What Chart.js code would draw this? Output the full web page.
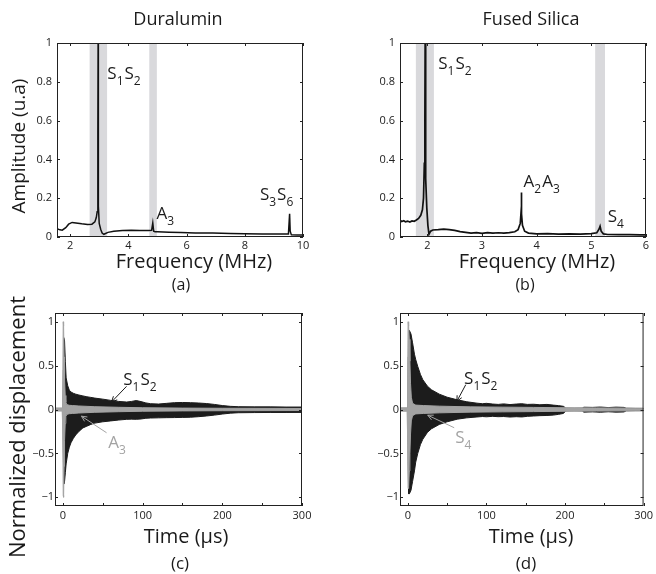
<!DOCTYPE html>
<html>
<head>
<meta charset="utf-8">
<script src="https://cdn.jsdelivr.net/npm/chart.js"></script>
<style>
body { margin: 0; background: #fff; }
#fig { position: relative; width: 656px; height: 574px; overflow: hidden; font-family: "Open Sans", sans-serif; color: #1a1a1a; }
#fig canvas { position: absolute; }
.lbl { position: absolute; transform: translate(-50%, -50%); white-space: nowrap; line-height: 1; }
.rot { transform: translate(-50%, -50%) rotate(-90deg); }
</style>
</head>
<body>
<div id="fig">
  <canvas id="chartA" width="320" height="290" style="left:0;top:0"></canvas>
  <canvas id="chartB" width="326" height="290" style="left:330px;top:0"></canvas>
  <canvas id="chartC" width="320" height="284" style="left:0;top:290px"></canvas>
  <canvas id="chartD" width="326" height="284" style="left:330px;top:290px"></canvas>

  <div class="lbl" style="left:178px;top:18px;font-size:18px">Duralumin</div>
  <div class="lbl" style="left:531px;top:18px;font-size:18px">Fused Silica</div>
  <div class="lbl rot" style="left:18px;top:146px;font-size:19px">Amplitude (u.a)</div>
  <div class="lbl" style="left:194px;top:261px;font-size:20px">Frequency (MHz)</div>
  <div class="lbl" style="left:537px;top:261px;font-size:20px">Frequency (MHz)</div>
  <div class="lbl" style="left:181px;top:284px;font-size:16px">(a)</div>
  <div class="lbl" style="left:525px;top:284px;font-size:16px">(b)</div>
  <div class="lbl rot" style="left:16px;top:427px;font-size:22px">Normalized displacement</div>
  <div class="lbl" style="left:186px;top:536px;font-size:20px">Time (µs)</div>
  <div class="lbl" style="left:531px;top:536px;font-size:20px">Time (µs)</div>
  <div class="lbl" style="left:180px;top:562px;font-size:17px">(c)</div>
  <div class="lbl" style="left:526px;top:562px;font-size:17px">(d)</div>
</div>

<script>
// Spectrum, Duralumin (a)
const freqA = [1.55, 1.65, 1.73, 1.85, 1.95, 2.07, 2.2, 2.4, 2.6, 2.75, 2.85, 2.9, 2.93, 2.95, 2.957, 2.962, 2.967, 2.975, 3.0, 3.05, 3.1, 3.16, 3.3, 3.5, 3.8, 4.1, 4.4, 4.7, 4.8, 4.84, 4.87, 4.92, 5.0, 5.4, 5.8, 6.3, 6.9, 7.5, 8.0, 8.6, 9.2, 9.5, 9.54, 9.56, 9.6, 9.8, 10.0];
const ampA = [0.043, 0.037, 0.035, 0.048, 0.066, 0.075, 0.072, 0.068, 0.065, 0.066, 0.078, 0.1, 0.13, 0.22, 0.55, 1.0, 0.55, 0.16, 0.07, 0.04, 0.02, 0.014, 0.024, 0.03, 0.034, 0.035, 0.034, 0.033, 0.034, 0.072, 0.03, 0.027, 0.027, 0.025, 0.023, 0.021, 0.02, 0.018, 0.017, 0.016, 0.015, 0.016, 0.12, 0.03, 0.011, 0.01, 0.01];
const bandsA = [[2.67, 3.27], [4.72, 4.98]];
const xTicksA = [2, 4, 6, 8, 10];

// Spectrum, Fused Silica (b)
const freqB = [1.5, 1.53, 1.57, 1.6, 1.64, 1.68, 1.72, 1.76, 1.8, 1.84, 1.88, 1.91, 1.93, 1.945, 1.955, 1.96, 1.965, 1.975, 1.99, 2.01, 2.03, 2.06, 2.1, 2.2, 2.3, 2.4, 2.5, 2.6, 2.7, 2.8, 2.9, 3.0, 3.1, 3.2, 3.3, 3.4, 3.5, 3.6, 3.66, 3.7, 3.715, 3.72, 3.725, 3.74, 3.78, 3.85, 4.0, 4.2, 4.4, 4.6, 4.8, 5.0, 5.1, 5.14, 5.16, 5.18, 5.22, 5.3, 5.5, 5.7, 5.9, 6.0];
const ampB = [0.086, 0.08, 0.084, 0.078, 0.082, 0.077, 0.083, 0.081, 0.088, 0.096, 0.112, 0.14, 0.2, 0.38, 0.6, 1.0, 0.5, 0.3, 0.15, 0.06, 0.014, 0.03, 0.036, 0.038, 0.041, 0.038, 0.034, 0.028, 0.024, 0.02, 0.023, 0.019, 0.023, 0.02, 0.022, 0.02, 0.023, 0.027, 0.038, 0.07, 0.13, 0.23, 0.12, 0.06, 0.03, 0.02, 0.016, 0.017, 0.015, 0.016, 0.015, 0.017, 0.022, 0.04, 0.055, 0.03, 0.016, 0.013, 0.012, 0.012, 0.011, 0.011];
const bandsB = [[1.79, 2.12], [5.07, 5.25]];
const xTicksB = [2, 3, 4, 5, 6];

const yTicksSpec = [0, 0.2, 0.4, 0.6, 0.8, 1];

// Time signal, Duralumin (c): envelopes of S1S2 (black) and A3 (gray)
const timeS12c = [0, 0.5, 1, 2, 3, 4, 6, 8, 10, 13, 16, 20, 25, 30, 35, 40, 50, 60, 70, 80, 86, 92, 98, 104, 110, 120, 130, 140, 150, 160, 170, 180, 190, 200, 210, 220, 240, 260, 280, 300];
const upperS12c = [0, 0.45, 0.82, 0.78, 0.55, 0.36, 0.27, 0.22, 0.2, 0.185, 0.175, 0.165, 0.155, 0.145, 0.138, 0.13, 0.118, 0.104, 0.092, 0.085, 0.092, 0.102, 0.09, 0.075, 0.066, 0.062, 0.07, 0.078, 0.08, 0.078, 0.074, 0.068, 0.058, 0.045, 0.036, 0.032, 0.03, 0.03, 0.028, 0.028];
const lowerS12c = [0, -0.5, -0.85, -0.82, -0.72, -0.62, -0.5, -0.43, -0.38, -0.33, -0.29, -0.25, -0.21, -0.19, -0.17, -0.155, -0.14, -0.13, -0.12, -0.112, -0.11, -0.112, -0.108, -0.1, -0.097, -0.095, -0.093, -0.092, -0.09, -0.088, -0.082, -0.074, -0.064, -0.052, -0.042, -0.037, -0.035, -0.034, -0.034, -0.033];
const timeA3c = [-10, -1, -0.3, 0.3, 0.8, 1.4, 2, 2.8, 3.6, 5, 8, 12, 20, 40, 70, 100, 150, 200, 300];
const upperA3c = [0.018, 0.018, 0.2, 1.0, 0.95, 0.6, 0.35, 0.16, 0.08, 0.055, 0.048, 0.045, 0.04, 0.032, 0.025, 0.02, 0.016, 0.014, 0.012];
const lowerA3c = [-0.018, -0.018, -0.2, -0.98, -1.0, -0.65, -0.35, -0.16, -0.08, -0.055, -0.048, -0.045, -0.04, -0.032, -0.025, -0.02, -0.016, -0.014, -0.012];

// Time signal, Fused Silica (d): envelopes of S1S2 (black) and S4 (gray)
const timeS12d = [0, 0.5, 1, 2, 4, 6, 8.4, 10, 12.6, 16, 19, 25, 30, 40, 50, 63, 75, 88, 95, 100, 108, 115, 122, 130, 138, 145, 152, 160, 168, 177, 185, 192, 198, 201, 212, 222, 224, 235, 245, 255, 265, 275, 278, 290, 300];
const upperS12d = [0, 0.6, 0.9, 0.9, 0.86, 0.76, 0.63, 0.57, 0.49, 0.4, 0.34, 0.265, 0.225, 0.175, 0.14, 0.11, 0.088, 0.072, 0.066, 0.07, 0.062, 0.058, 0.064, 0.056, 0.062, 0.066, 0.058, 0.06, 0.054, 0.058, 0.05, 0.044, 0.036, 0.016, 0.014, 0.016, 0.026, 0.024, 0.028, 0.022, 0.027, 0.024, 0.014, 0.012, 0.012];
const lowerS12d = [0, -0.65, -0.96, -0.96, -0.92, -0.82, -0.7, -0.6, -0.5, -0.4, -0.34, -0.26, -0.22, -0.17, -0.14, -0.11, -0.095, -0.085, -0.08, -0.083, -0.078, -0.082, -0.08, -0.086, -0.082, -0.085, -0.078, -0.074, -0.07, -0.068, -0.064, -0.055, -0.045, -0.016, -0.014, -0.016, -0.03, -0.027, -0.031, -0.026, -0.03, -0.028, -0.015, -0.013, -0.013];
const timeS4d = [-10, -1, -0.3, 0.3, 1, 1.8, 2.6, 3.4, 4.4, 6, 10, 20, 40, 80, 120, 160, 200, 240, 300];
const upperS4d = [0.02, 0.02, 0.3, 1.0, 0.95, 0.8, 0.55, 0.3, 0.14, 0.07, 0.05, 0.045, 0.038, 0.03, 0.027, 0.024, 0.02, 0.018, 0.015];
const lowerS4d = [-0.02, -0.02, -0.3, -0.9, -0.88, -0.7, -0.5, -0.28, -0.13, -0.07, -0.05, -0.045, -0.038, -0.03, -0.027, -0.024, -0.02, -0.018, -0.015];

const xTicksTime = [0, 50, 100, 150, 200, 250, 300];
const yTicksTime = [-1, -0.5, 0, 0.5, 1];

const FONT = '"Open Sans", sans-serif';
const BLACK = '#1c1c1c';
const GRAY = '#a3a3a3';

// gray bands, box with inward ticks, mode labels and arrows
const framePlugin = {
    id: 'frame',
    beforeDatasetsDraw(chart, args, opts) {
        const { ctx, chartArea: a, scales: { x } } = chart;
        ctx.save();
        ctx.fillStyle = '#d9d9dc';
        (opts.bands || []).forEach(([b0, b1]) => {
            const p0 = x.getPixelForValue(b0);
            const p1 = x.getPixelForValue(b1);
            ctx.fillRect(p0, a.top, p1 - p0, a.bottom - a.top);
        });
        ctx.restore();
    },
    afterDatasetsDraw(chart, args, opts) {
        const { ctx, chartArea: a, scales: { x, y } } = chart;
        ctx.save();
        ctx.strokeStyle = '#222';
        ctx.lineWidth = 1;
        ctx.strokeRect(a.left + 0.5, a.top + 0.5, a.right - a.left - 1, a.bottom - a.top - 1);
        ctx.beginPath();
        x.ticks.forEach(t => {
            const px = Math.round(x.getPixelForValue(t.value)) + 0.5;
            ctx.moveTo(px, a.bottom); ctx.lineTo(px, a.bottom - 3);
            ctx.moveTo(px, a.top); ctx.lineTo(px, a.top + 3);
        });
        y.ticks.forEach(t => {
            const py = Math.round(y.getPixelForValue(t.value)) + 0.5;
            ctx.moveTo(a.left, py); ctx.lineTo(a.left + 3, py);
            ctx.moveTo(a.right, py); ctx.lineTo(a.right - 3, py);
        });
        ctx.stroke();

        (opts.arrows || []).forEach(ar => {
            const x0 = x.getPixelForValue(ar.from[0]), y0 = y.getPixelForValue(ar.from[1]);
            const x1 = x.getPixelForValue(ar.to[0]), y1 = y.getPixelForValue(ar.to[1]);
            const ang = Math.atan2(y1 - y0, x1 - x0);
            ctx.strokeStyle = ar.color;
            ctx.beginPath();
            ctx.moveTo(x0, y0); ctx.lineTo(x1, y1);
            ctx.moveTo(x1 - 6 * Math.cos(ang - 0.45), y1 - 6 * Math.sin(ang - 0.45));
            ctx.lineTo(x1, y1);
            ctx.lineTo(x1 - 6 * Math.cos(ang + 0.45), y1 - 6 * Math.sin(ang + 0.45));
            ctx.stroke();
        });

        (opts.notes || []).forEach(n => {
            let cx = x.getPixelForValue(n.x);
            const cy = y.getPixelForValue(n.y);
            ctx.fillStyle = n.color || BLACK;
            ctx.textBaseline = 'alphabetic';
            n.parts.forEach(([main, sub]) => {
                ctx.font = '17px ' + FONT;
                ctx.fillText(main, cx, cy);
                cx += ctx.measureText(main).width;
                ctx.font = '12px ' + FONT;
                ctx.fillText(sub, cx, cy + 6);
                cx += ctx.measureText(sub).width + 1;
            });
        });
        ctx.restore();
    }
};

function toPoints(xs, ys) {
    return xs.map((v, i) => ({ x: v, y: ys[i] }));
}

function envelope(t, up, lo, color) {
    return [
        { data: toPoints(t, up), borderColor: color, backgroundColor: color, borderWidth: 1, pointRadius: 0, fill: '+1' },
        { data: toPoints(t, lo), borderColor: color, borderWidth: 1, pointRadius: 0, fill: false }
    ];
}

function axis(min, max, ticks, fitSize, isX, pad, fmt) {
    return {
        type: 'linear',
        min: min,
        max: max,
        afterBuildTicks: s => { s.ticks = ticks.map(v => ({ value: v })); },
        afterFit: s => { if (isX) s.height = fitSize; else s.width = fitSize; },
        grid: { display: false, drawTicks: false },
        border: { display: false },
        ticks: {
            autoSkip: false,
            maxRotation: 0,
            padding: pad,
            color: '#222',
            font: { family: FONT, size: 11 },
            callback: fmt || (v => String(v))
        }
    };
}

function makeChart(id, datasets, o) {
    return new Chart(document.getElementById(id), {
        type: 'line',
        data: { datasets: datasets },
        options: {
            responsive: false,
            animation: false,
            events: [],
            layout: { autoPadding: false, padding: { left: 0, top: o.top, right: o.right, bottom: 0 } },
            elements: { line: { tension: 0 } },
            scales: { x: o.x, y: o.y },
            plugins: {
                legend: { display: false },
                tooltip: { enabled: false },
                frame: { bands: o.bands, notes: o.notes, arrows: o.arrows }
            }
        },
        plugins: [framePlugin]
    });
}

const minus = v => String(v).replace('-', '\u2212');
const hundreds = v => (v % 100 === 0 ? String(v) : '');

// (a)
makeChart('chartA', [
    { data: toPoints(freqA, ampA), borderColor: '#111', borderWidth: 1.5, pointRadius: 0, fill: false }
], {
    top: 43, right: 17,
    x: axis(1.55, 10, xTicksA, 53, true, 2),
    y: axis(0, 1, yTicksSpec, 57, false, 5),
    bands: bandsA,
    notes: [
        { x: 3.28, y: 0.816, parts: [['S', '1'], ['S', '2']] },
        { x: 4.97, y: 0.095, parts: [['A', '3']] },
        { x: 8.52, y: 0.19, parts: [['S', '3'], ['S', '6']] }
    ]
});

// (b)
makeChart('chartB', [
    { data: toPoints(freqB, ampB), borderColor: '#111', borderWidth: 1.7, pointRadius: 0, fill: false }
], {
    top: 43, right: 10,
    x: axis(1.5, 6, xTicksB, 53, true, 2),
    y: axis(0, 1, yTicksSpec, 70, false, 5),
    bands: bandsB,
    notes: [
        { x: 2.2, y: 0.868, parts: [['S', '1'], ['S', '2']] },
        { x: 3.76, y: 0.258, parts: [['A', '2'], ['A', '3']] },
        { x: 5.3, y: 0.077, parts: [['S', '4']] }
    ]
});

// (c)
makeChart('chartC', [
    ...envelope(timeA3c, upperA3c, lowerA3c, GRAY),
    ...envelope(timeS12c, upperS12c, lowerS12c, BLACK)
], {
    top: 23, right: 18,
    x: axis(-10, 300, xTicksTime, 68, true, 3, hundreds),
    y: axis(-1.1, 1.1, yTicksTime, 55, false, 1, minus),
    notes: [
        { x: 75.6, y: 0.283, parts: [['S', '1'], ['S', '2']] },
        { x: 56.7, y: -0.435, parts: [['A', '3']], color: GRAY }
    ],
    arrows: [
        { from: [79.8, 0.264], to: [61, 0.086], color: BLACK },
        { from: [54.7, -0.265], to: [23.2, -0.076], color: GRAY }
    ]
});

// (d)
makeChart('chartD', [
    ...envelope(timeS4d, upperS4d, lowerS4d, GRAY),
    ...envelope(timeS12d, upperS12d, lowerS12d, BLACK)
], {
    top: 23, right: 10,
    x: axis(-10, 300, xTicksTime, 68, true, 3, hundreds),
    y: axis(-1.1, 1.1, yTicksTime, 70, false, 1, minus),
    notes: [
        { x: 71.6, y: 0.29, parts: [['S', '1'], ['S', '2']] },
        { x: 60.2, y: -0.378, parts: [['S', '4']], color: GRAY }
    ],
    arrows: [
        { from: [73.7, 0.283], to: [62.4, 0.094], color: BLACK },
        { from: [59, -0.208], to: [25.3, -0.065], color: GRAY }
    ]
});
</script>
</body>
</html>
